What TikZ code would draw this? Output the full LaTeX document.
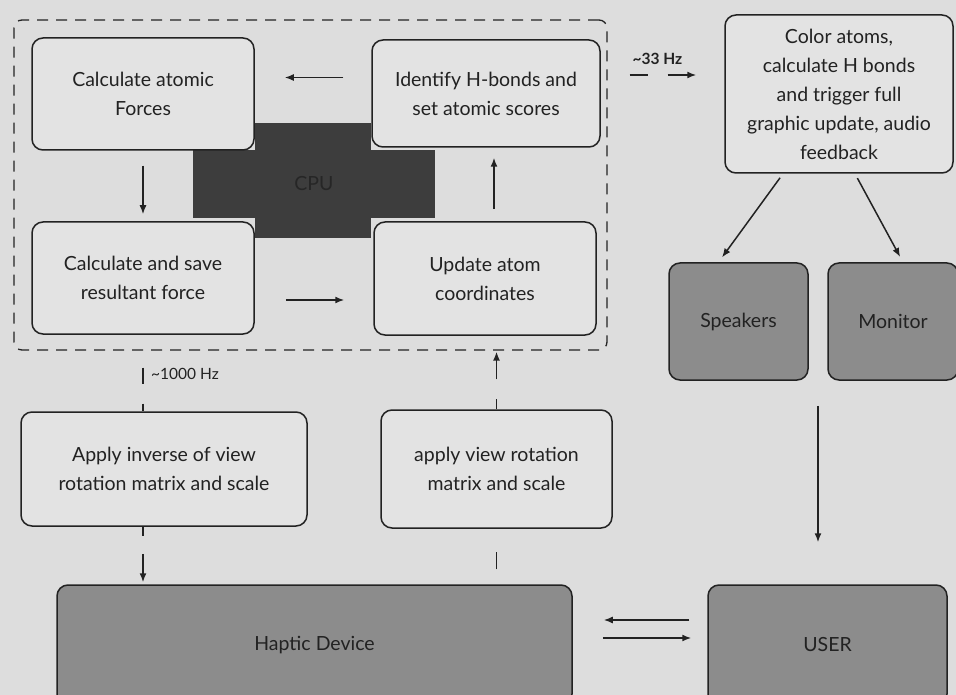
\documentclass[tikz,border=0pt]{standalone}
\usepackage{fontspec}
\setmainfont{Lato}
\usetikzlibrary{arrows.meta,positioning,calc}
\definecolor{bgcol}{HTML}{DDDDDD}
\definecolor{boxcol}{HTML}{E3E3E3}
\definecolor{devcol}{HTML}{8C8C8C}
\definecolor{cpucol}{HTML}{3D3D3D}
\definecolor{inkcol}{HTML}{222222}

\begin{document}
\begin{tikzpicture}[x=1pt,y=-1pt]
        \tikzset{stepbox/.style={draw=inkcol, line width=1.5pt, rounded corners=11pt, fill=boxcol,
                align=center, text=inkcol, font=\fontsize{19.5}{29}\selectfont, inner sep=0pt}}
        \tikzset{devbox/.style={stepbox, fill=devcol}}
        \tikzset{flow/.style={draw=inkcol, line width=1.5pt, -{Latex[length=9pt,width=7pt]}}}
        \tikzset{rate/.style={text=inkcol, font=\fontsize{15.5}{18}\selectfont, inner sep=0pt}}
        \path[use as bounding box, fill=bgcol] (0,0) rectangle (956,695);
        \clip (0,0) rectangle (956,695);
        % CPU loop
        \node[draw=inkcol, line width=1.3pt, dashed, dash pattern=on 11pt off 8pt,
              rounded corners=8pt, minimum width=593pt, minimum height=330pt] (frame) at (310.5,185) {};
        \node[fill=cpucol, minimum width=242pt, minimum height=68pt] (cpu) at (314,184) {};
        \node[stepbox, minimum width=222pt, minimum height=112pt] (calcF) at (143,94) {Calculate atomic\\Forces};
        \node[stepbox, minimum width=228pt, minimum height=107pt] (ident) at (486,93.5) {Identify H-bonds and\\set atomic scores};
        \fill[cpucol] ([yshift=27pt]cpu.north -| calcF.east) rectangle ([yshift=-20pt]cpu.south -| ident.west);
        \node[text=black!85, font=\fontsize{19.5}{22}\selectfont, inner sep=0pt] at (cpu) {CPU};
        \node[stepbox, minimum width=222pt, minimum height=112pt] (calcS) at (143,278) {Calculate and save\\resultant force};
        \node[stepbox, minimum width=222pt, minimum height=113pt] (update) at (485,278.5) {Update atom\\coordinates};
        % graphics side
        \node[stepbox, minimum width=228pt, minimum height=158pt] (color) at (839,94)
              {Color atoms,\\calculate H bonds\\and trigger full\\graphic update, audio\\feedback};
        \node[devbox, minimum width=139pt, minimum height=117pt] (speak) at (738.5,321.5) {Speakers};
        \node[devbox, minimum width=130pt, minimum height=117pt] (monit) at (893,321.5) {Monitor};
        % haptic side
        \node[stepbox, minimum width=286pt, minimum height=114pt] (inv) at (164,469) {Apply inverse of view\\rotation matrix and scale};
        \node[stepbox, minimum width=231pt, minimum height=118pt] (view) at (496.5,469) {apply view rotation\\matrix and scale};
        \node[devbox, minimum width=515pt, minimum height=120pt] (haptic) at (314.5,645) {Haptic Device};
        \node[devbox, minimum width=239pt, minimum height=120pt] (user) at (827.5,645) {USER};
        \coordinate (outs) at ($(speak.south east)!.5!(monit.south west)$);

        \draw[flow, shorten <=28pt, shorten >=30pt] ([yshift=16pt]ident.west) -- ([yshift=16pt]ident.west -| calcF.east);
        \draw[flow, shorten <=15pt, shorten >=7pt] (calcF.south) -- (calcS.north);
        \draw[flow, shorten <=31pt, shorten >=29pt] ([yshift=-22pt]calcS.east) -- ([yshift=-22pt]calcS.east -| update.west);
        \draw[flow, shorten <=12pt, shorten >=10pt] ([xshift=9pt]update.north) -- ([xshift=9pt]update.north |- ident.south);

        \draw[flow, dash pattern=on 0pt off 22pt on 18pt off 20pt on 40pt, shorten >=28pt]
              ([yshift=110pt]frame.east) -- ([yshift=110pt]frame.east -| color.west);
        \node[rate, font=\fontsize{15.5}{18}\selectfont\bfseries] (hz33) at (657.5,59) {\textasciitilde 33 Hz};
        \draw[flow, shorten <=5pt, shorten >=6pt] ([xshift=-56pt]color.south) -- ([xshift=-20pt]speak.north);
        \draw[flow, shorten <=5pt, shorten >=6pt] ([xshift=16pt]color.south) -- ([xshift=10pt]monit.north);
        \draw[flow, shorten <=25pt, shorten >=42pt] (outs) -- (outs |- user.north);
        \draw[flow, shorten <=18pt, shorten >=31pt] ([yshift=25pt]user.west) -- ([yshift=25pt]user.west -| haptic.east);
        \draw[flow, shorten <=30pt, shorten >=16pt] ([yshift=7pt]haptic.east) -- ([yshift=7pt]haptic.east -| user.west);

        \draw[draw=inkcol, line width=1.5pt, dash pattern=on 0pt off 17pt on 16pt off 20pt on 20pt]
              ([xshift=-21pt]inv.north |- frame.south) -- ([xshift=-21pt]inv.north);
        \node[rate, anchor=west] (hz1000) at (151,374) {\textasciitilde 1000 Hz};
        \draw[flow, dash pattern=on 9pt off 18pt on 40pt, shorten >=2pt]
              ([xshift=-21pt]inv.south) -- ([xshift=-21pt]inv.south |- haptic.north);
        \draw[flow, dash pattern=on 10pt off 20pt on 40pt, shorten >=1pt] (view.north) -- (view.north |- frame.south);
        \draw[draw=inkcol, line width=1.5pt, dash pattern=on 17pt off 40pt, dash phase=42pt]
              (view.south |- haptic.north) -- (view.south);
\end{tikzpicture}
\end{document}
